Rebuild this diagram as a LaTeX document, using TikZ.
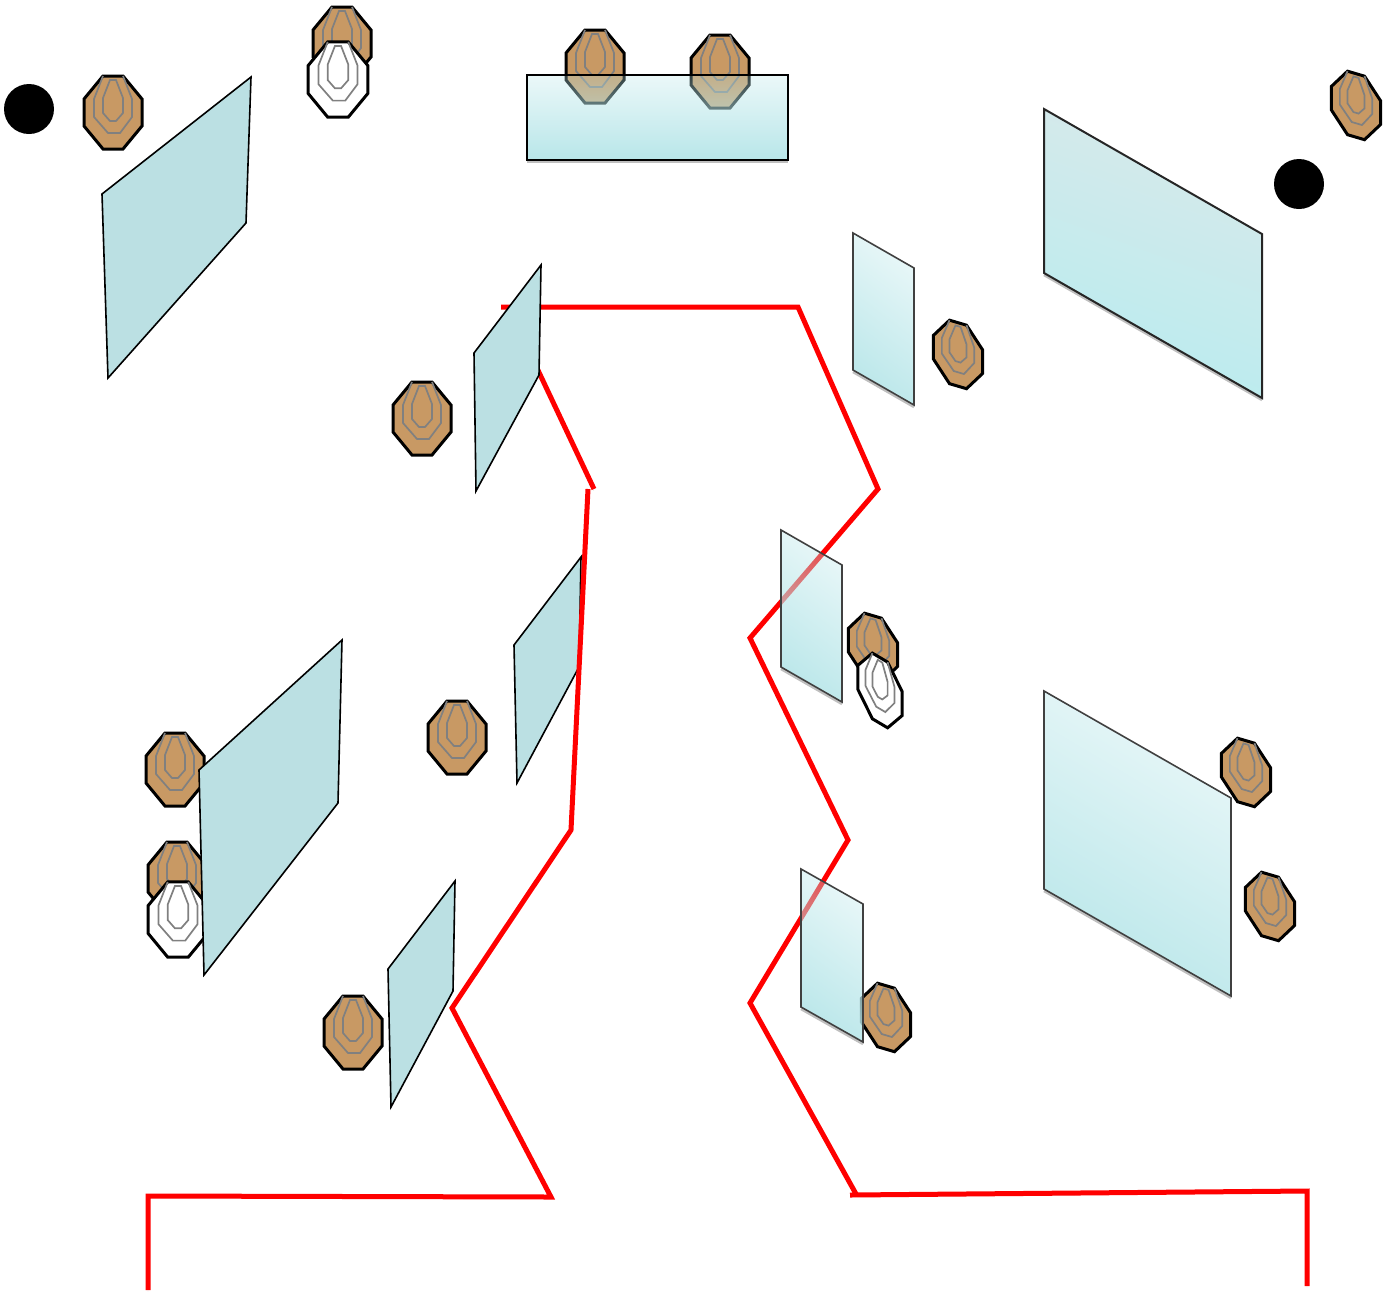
\documentclass[tikz,border=0pt]{standalone}
\usepackage{tikz}
\usetikzlibrary{fadings}

\definecolor{targetbrown}{HTML}{C89964}
\definecolor{ringgray}{HTML}{808080}
\definecolor{panelblue}{HTML}{BBE0E3}
\definecolor{glassblue}{HTML}{B8E6E9}
\definecolor{glasstop}{HTML}{D8E9EA}
\definecolor{glassmid}{HTML}{AED8DA}
\definecolor{glassbottom}{HTML}{B9ECEF}

\tikzfading[name=glassfade, top color=transparent!72, bottom color=transparent!0]

\tikzset{
	pics/target/.style={code={
		\draw[black, line width=3pt, fill=#1] (-10,-36) -- (10,-36) -- (29,-13) -- (29,14) -- (10,37) -- (-10,37) -- (-29,14) -- (-29,-13) -- cycle;
		\draw[ringgray, line width=1.7pt] (-10,-36) -- (-19,-13) -- (-19,5) -- (-5,21) -- (7,21) -- (19,5) -- (19,-13) -- (10,-36);
		\draw[ringgray, line width=1.7pt] (-3,-32) -- (3,-32) -- (10,-14) -- (10,1) -- (3,9) -- (-3,9) -- (-10,1) -- (-10,-14) -- cycle;
	}},
	turned/.style={cm={.85,-.25,0,.87,(0,0)}},
	sheared/.style={cm={.76,-.45,0,.9,(0,0)}},
	redwall/.style={red, line width=5pt, preaction={draw=black, opacity=.12, transform canvas={yshift=-2pt}}},
	panel/.style={draw=black, line width=1.6pt, fill=panelblue},
	glassedge/.style={draw=black!75, line width=1.6pt},
	glassshadow/.style={black, opacity=.25, line width=2.5pt},
}

\begin{document}
\begin{tikzpicture}[x=1pt, y=-1pt]
	\useasboundingbox (0,0) rectangle (1392,1291);
	
	% 1. Targets
	\foreach \px/\py in {113/112, 342/43, 595/66, 720/71, 422/418, 457/737, 175/769, 177/878, 353/1032} {
		\pic at (\px,\py) {target=targetbrown};
	}
	\foreach \px/\py in {958/354, 1356/105, 873/647, 1246/772, 1270/906, 886/1017} {
		\pic[turned] at (\px,\py) {target=targetbrown};
	}
	\pic[scale=1.03] at (338,79) {target=white};
	\pic[scale=1.03] at (178,919) {target=white};
	\pic[sheared] at (880,690) {target=white};
	
	% 2. Black dots
	\fill[black] (29,109) circle (25);
	\fill[black] (1299,184) circle (25);
	
	% 3. Red walls behind the panels
	\draw[redwall] (501,307) -- (798,307) -- (878,489) -- (750,638) -- (848,840) -- (750,1003) -- (856,1194);
	\draw[redwall] (850,1195) -- (1307,1191) -- (1307,1286);
	\draw[redwall] (594,489) -- (536,366);
	
	% 4. Plain panels
	\foreach \xa/\ya/\xb/\yb/\xc/\yc/\xd/\yd in {
		251/77/246/223/108/378/102/194,
		541/265/539/375/476/491/474/353,
		581/557/579/667/517/783/514/645,
		342/640/338/803/204/975/199/770,
		455/881/453/991/391/1107/388/969} {
		\draw[panel] (\xa,\ya) -- (\xb,\yb) -- (\xc,\yc) -- (\xd,\yd) -- cycle;
	}
	
	% 5. Glass panels
	\foreach \xa/\ya/\xb/\yb/\xc/\yc/\xd/\yd/\fade in {
		527/75/788/75/788/160/527/160/0,
		853/233/914/268/914/405/853/370/-15,
		781/530/842/565/842/702/781/667/-15,
		801/869/863/904/863/1042/801/1007/-15,
		1044/691/1231/798/1231/996/1044/889/-20} {
		\draw[glassshadow] (\xd,\yd+2) -- (\xc,\yc+2);
		\fill[glassblue, path fading=glassfade, fading angle=\fade] (\xa,\ya) -- (\xb,\yb) -- (\xc,\yc) -- (\xd,\yd) -- cycle;
		\draw[glassedge] (\xa,\ya) -- (\xb,\yb) -- (\xc,\yc) -- (\xd,\yd) -- cycle;
	}
	\draw[black, line width=1.8pt] (527,75) rectangle (788,160);
	\draw[glassshadow] (1044,275) -- (1262,400);
	\shade[top color=glasstop, middle color=glassmid, bottom color=glassbottom, shading angle=-20] (1044,109) -- (1262,234) -- (1262,398) -- (1044,273) -- cycle;
	\draw[draw=black!85, line width=2pt] (1044,109) -- (1262,234) -- (1262,398) -- (1044,273) -- cycle;
	
	% 6. Red walls in front of the panels
	\draw[redwall] (148,1290) -- (148,1196) -- (551,1197) -- (452,1008) -- (571,830) -- (588,489);
\end{tikzpicture}
\end{document}
